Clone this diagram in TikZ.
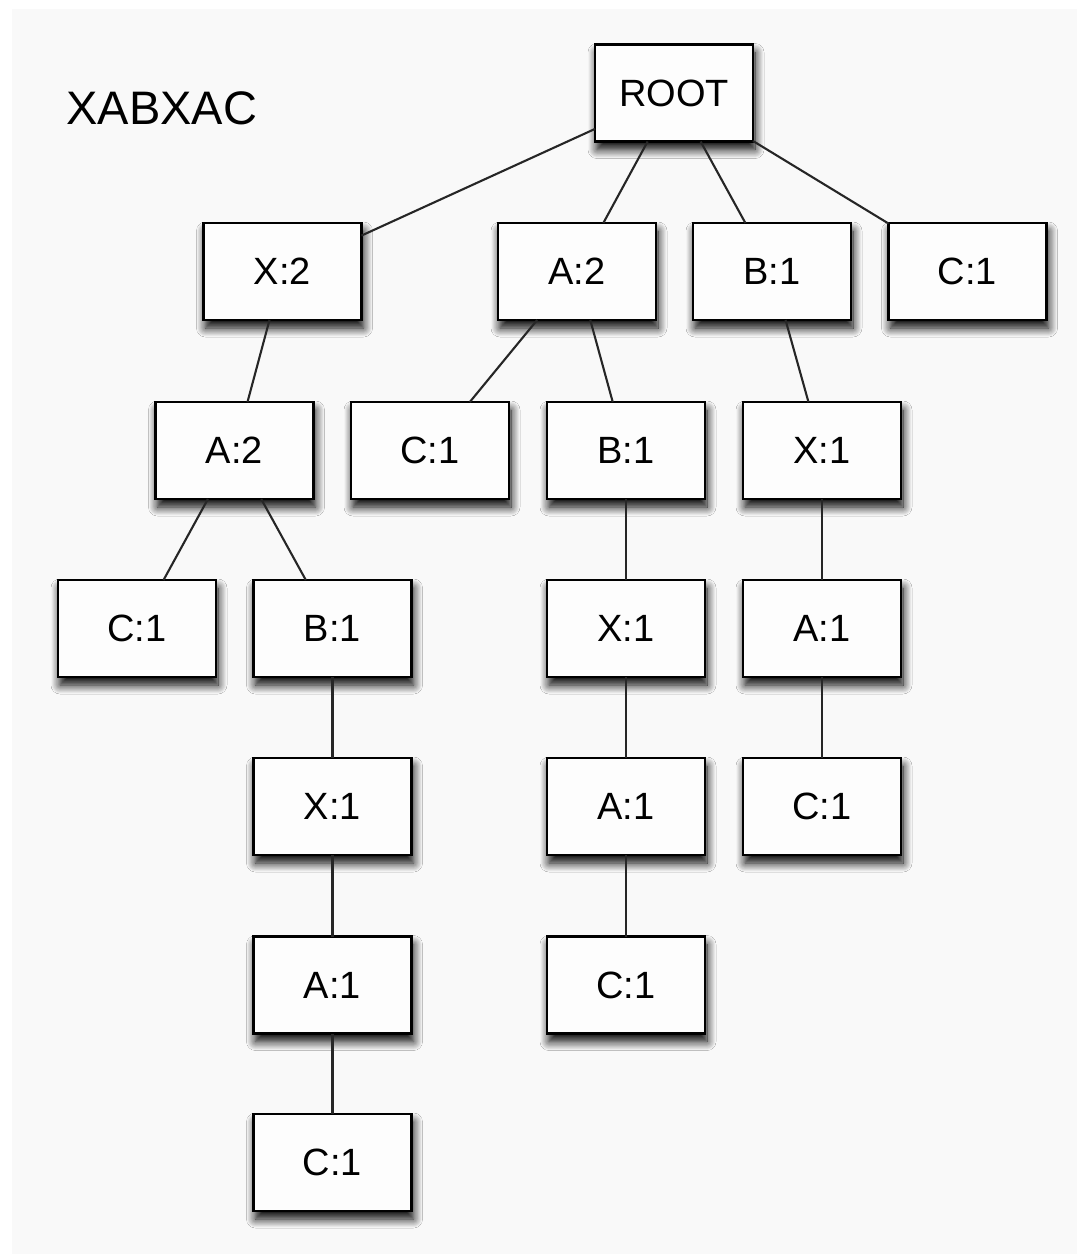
\documentclass[tikz,border=0pt]{standalone}
\usepackage{fontspec}
\setmainfont{Liberation Sans}
\usetikzlibrary{shadows.blur}
\definecolor{paper}{HTML}{F9F9F9}
\definecolor{boxfill}{HTML}{FDFDFD}
\definecolor{edgeline}{HTML}{262626}
\tikzset{
  tnode/.style={draw=black, line width=2.2pt, fill=boxfill,
    minimum width=158pt, minimum height=97pt, inner sep=0pt, outer sep=0pt,
    font=\fontsize{38}{44}\selectfont,
    blur shadow={shadow xshift=2pt, shadow yshift=-8pt, shadow blur radius=9pt,
      shadow blur steps=12, shadow opacity=100}},
  tedge/.style={draw=edgeline, line width=2.1pt},
}
\begin{document}
\begin{tikzpicture}[x=1pt, y=-1pt]
  \useasboundingbox (0,0) rectangle (1077,1254);
  \fill[white] (0,0) rectangle (1077,1254);
  \fill[paper] (12,9) rectangle (1077,1254);

  \node[anchor=base west, font=\fontsize{47}{56}\selectfont] (title) at (63,124) {XABXAC};

  % root and first level
  \node[tnode] (root) at (674,93) {ROOT};
  \node[tnode] (x2)   at (282.5,271.5) {X:2};
  \node[tnode] (a2)   at (577,271.5) {A:2};
  \node[tnode] (b1)   at (772,271.5) {B:1};
  \node[tnode] (c1)   at (967.5,271.5) {C:1};

  % second level
  \node[tnode] (x2a)  at (234.5,450.5) {A:2};
  \node[tnode] (a2c)  at (430,450.5) {C:1};
  \node[tnode] (a2b)  at (626,450.5) {B:1};
  \node[tnode] (b1x)  at (822,450.5) {X:1};

  % third level
  \node[tnode] (x2ac) at (137,628.5) {C:1};
  \node[tnode] (x2ab) at (332.5,628.5) {B:1};
  \node[tnode] (a2bx) at (626,628.5) {X:1};
  \node[tnode] (b1xa) at (822,628.5) {A:1};

  % fourth level
  \node[tnode] (x2abx) at (332.5,806.5) {X:1};
  \node[tnode] (a2bxa) at (626,806.5) {A:1};
  \node[tnode] (b1xac) at (822,806.5) {C:1};

  % fifth and sixth levels
  \node[tnode] (x2abxa)  at (332.5,985) {A:1};
  \node[tnode] (a2bxac)  at (626,985) {C:1};
  \node[tnode] (x2abxac) at (332.5,1162.5) {C:1};

  % connectors
  \draw[tedge] (root) -- (x2);
  \draw[tedge] (root) -- (a2);
  \draw[tedge] (root) -- (b1);
  \draw[tedge] (root) -- (c1);
  \draw[tedge] (x2) -- (x2a);
  \draw[tedge] (a2) -- (a2c);
  \draw[tedge] (a2) -- (a2b);
  \draw[tedge] (b1) -- (b1x);
  \draw[tedge] (x2a) -- (x2ac);
  \draw[tedge] (x2a) -- (x2ab);
  \draw[tedge] (a2b) -- (a2bx);
  \draw[tedge] (b1x) -- (b1xa);
  \draw[tedge] (x2ab) -- (x2abx);
  \draw[tedge] (a2bx) -- (a2bxa);
  \draw[tedge] (b1xa) -- (b1xac);
  \draw[tedge] (x2abx) -- (x2abxa);
  \draw[tedge] (a2bxa) -- (a2bxac);
  \draw[tedge] (x2abxa) -- (x2abxac);
\end{tikzpicture}
\end{document}
